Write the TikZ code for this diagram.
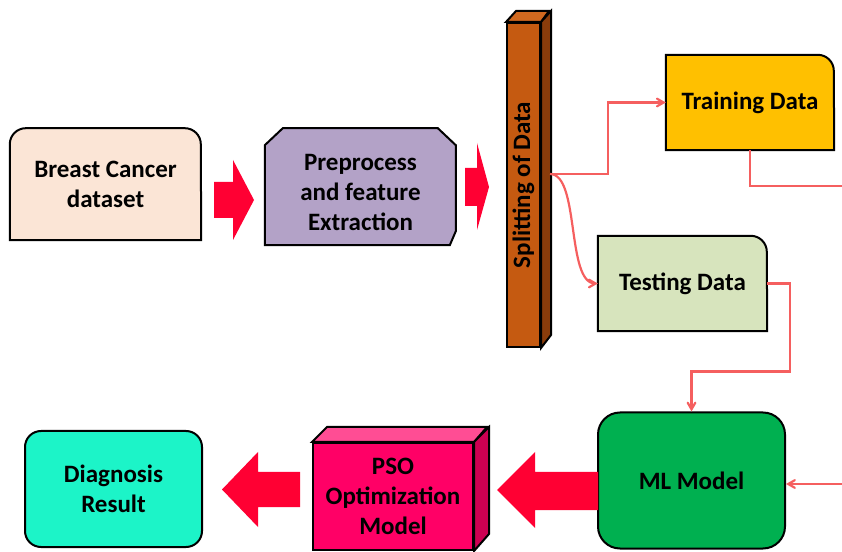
\documentclass[tikz,border=0pt]{standalone}
\usepackage{fontspec}
\setmainfont{Carlito}
\usetikzlibrary{arrows,positioning,backgrounds}

\definecolor{datafill}{HTML}{FBE5D6}
\definecolor{prepfill}{HTML}{B3A2C7}
\definecolor{splitfront}{HTML}{C55A11}
\definecolor{splitside}{HTML}{8A3C0B}
\definecolor{splittop}{HTML}{D0681F}
\definecolor{trainfill}{HTML}{FFC000}
\definecolor{testfill}{HTML}{D7E4BD}
\definecolor{mlfill}{HTML}{00B050}
\definecolor{psofront}{HTML}{FF0066}
\definecolor{psotop}{HTML}{FF4D94}
\definecolor{psoside}{HTML}{CC0052}
\definecolor{diagfill}{HTML}{1CF4C8}
\definecolor{arrowred}{HTML}{FF0033}
\definecolor{connred}{HTML}{F55F5F}

\begin{document}
\begin{tikzpicture}[x=1pt,y=1pt,>=angle 60,
  box/.style={font=\bfseries\fontsize{25}{30}\selectfont, align=center, inner sep=0pt},
  line box/.style={box, draw, line width=2pt},
  outline/.style={draw=black, line width=2pt},
  conn/.style={->, draw=connred, line width=2.2pt},
  big arrow/.style={fill=arrowred}]

  \useasboundingbox (0,0) rectangle (842,551);

  % boxes
  \node[box, minimum width=191pt, minimum height=112pt] (data) at (105.5,367) {Breast Cancer\\dataset};
  \node[box, minimum width=191pt, minimum height=117pt] (prep) at (360.5,358.5) {Preprocess\\and feature\\Extraction};
  \node[line box, fill=splitfront, minimum width=33pt, minimum height=324pt] (split) at (523.5,366) {\rotatebox{90}{Splitting of Data}};
  \node[box, minimum width=168pt, minimum height=95pt] (train) at (750,448.5) {Training Data};
  \node[box, minimum width=169pt, minimum height=95pt] (test) at (682.5,267.5) {Testing Data};
  \node[line box, fill=mlfill, rounded corners=22pt, minimum width=187pt, minimum height=136pt] (ml) at (691.5,70.5) {ML Model};
  \node[line box, fill=psofront, minimum width=160pt, minimum height=107pt] (pso) at (393,54.5) {PSO\\Optimization\\Model};
  \node[line box, fill=diagfill, rounded corners=16pt, minimum width=177pt, minimum height=116pt] (diag) at (113.5,62) {Diagnosis\\Result};

  \begin{scope}[on background layer]
    \filldraw[outline, fill=datafill] (data.south west) -- ++(0,96) arc[start angle=180,end angle=90,radius=16]
      -- ++(159,0) arc[start angle=90,end angle=0,radius=16] -- (data.south east) -- cycle;
    \filldraw[outline, fill=prepfill] ([yshift=6pt]prep.south west) -- ++(0,100) -- ++(18,17) -- ++(155,0) -- ++(18,-17)
      -- ++(0,-86) -- ++(-6,-14) -- cycle;
    \filldraw[outline, fill=trainfill] (train.south west) -- (train.north west) -- ++(152,0)
      arc[start angle=90,end angle=0,radius=16] -- (train.south east) -- cycle;
    \filldraw[outline, fill=testfill] (test.south west) -- (test.north west) -- ++(153,0)
      arc[start angle=90,end angle=0,radius=16] -- (test.south east) -- cycle;
  \end{scope}

  % 3d faces
  \filldraw[outline, fill=splittop] (split.north west) -- ++(10,11) -- ++(33,0) -- (split.north east) -- cycle;
  \filldraw[outline, fill=splitside] (split.north east) -- ++(10,11) -- ++(0,-324) -- (split.south east) -- cycle;
  \filldraw[outline, fill=psotop] (pso.north west) -- ++(15,15) -- ++(160,0) -- (pso.north east) -- cycle;
  \filldraw[outline, fill=psoside] (pso.north east) -- ++(15,15) -- ++(0,-107) -- (pso.south east) -- cycle;

  % block arrows
  \fill[big arrow] (214,333) -- (214,369) -- (233,369) -- (233,391) -- (254,351) -- (233,311) -- (233,333) -- cycle;
  \fill[big arrow] (465,345) -- (465,383) -- (477,383) -- (477,408) -- (489,364) -- (477,321) -- (477,345) -- cycle;
  \fill[big arrow] (598,41) -- (598,79) -- (535,79) -- (535,99) -- (497,61) -- (535,23) -- (535,41) -- cycle;
  \fill[big arrow] (300,44) -- (300,79) -- (258,79) -- (258,99) -- (222,61.5) -- (258,24) -- (258,44) -- cycle;

  % connectors
  \coordinate (fork) at (550,377);
  \coordinate (trainout) at (842,365);
  \coordinate (mlin) at (842,67);

  \draw[conn] (fork) -- (608,377) |- (train.west);
  \draw[conn] (fork) .. controls (580,377) and (566,267.5) .. (test.west);
  \draw[conn, -] (train.south) |- (trainout);
  \draw[conn] (test.east) -- ++(23,0) |- ([yshift=40pt]ml.north) -- (ml.north);
  \draw[conn] (mlin) -- (ml.east |- mlin);
\end{tikzpicture}
\end{document}
